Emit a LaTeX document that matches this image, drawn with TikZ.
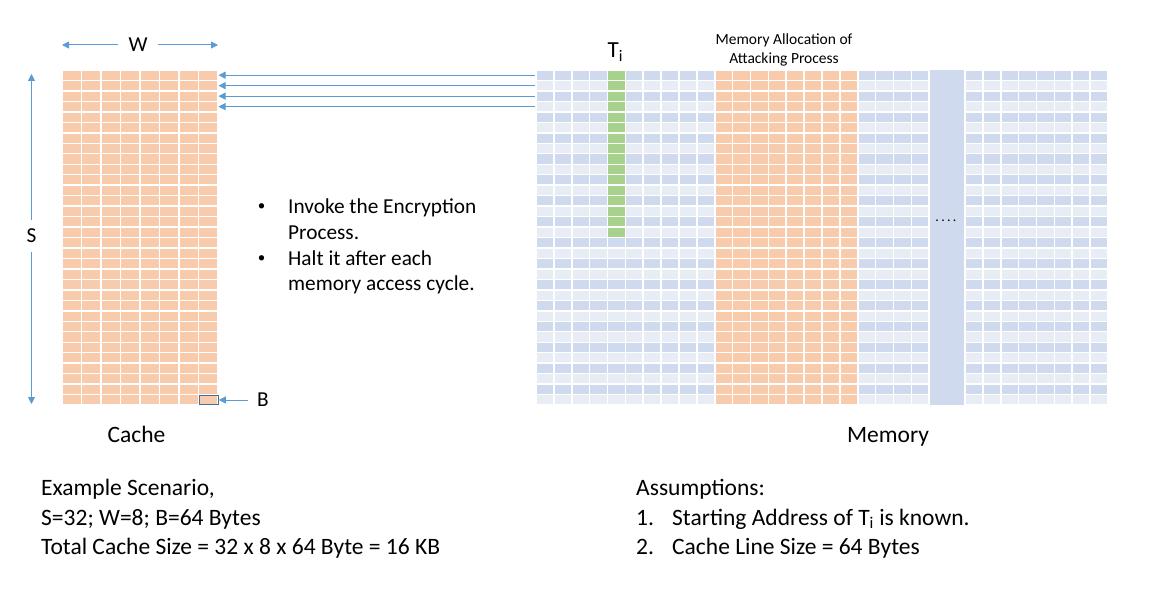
\documentclass[tikz,border=0pt]{standalone}
\usepackage{fontspec}
\setmainfont{Carlito}
\usetikzlibrary{arrows.meta}

\definecolor{cacheorange}{HTML}{F8CBAD}
\definecolor{memdark}{HTML}{D0DAEE}
\definecolor{memlight}{HTML}{E8ECF5}
\definecolor{tigreen}{HTML}{A9D18E}
\definecolor{arrowblue}{HTML}{5B9BD5}
\definecolor{bframe}{HTML}{41719C}

\newcommand{\pxfont}[1]{\fontsize{#1bp}{#1bp}\selectfont}

\begin{document}
\begin{tikzpicture}[x=1bp, y=-1bp,
	pointer/.style={draw=arrowblue, line width=1bp, -{Triangle[length=7bp, width=7bp]}},
	big/.style={font=\pxfont{23.5}, inner sep=0pt},
	mid/.style={font=\pxfont{21.3}, inner sep=0pt},
	small/.style={font=\pxfont{15.5}, inner sep=0pt}]
	\useasboundingbox (0,0) rectangle (1159,589);
	
	% cache lines (32 sets x 8 ways)
	\foreach \r in {0,...,31}
		\foreach \c in {0,...,7}
			\fill[cacheorange] (62+\c*19.5+0.8, 70+\r*10.47+0.7) rectangle ++(17.9,9.07);
	
	% memory blocks
	\foreach \r in {0,...,31} {
		\ifodd\r \def\rowcol{memlight}\else\def\rowcol{memdark}\fi
		\foreach \c in {0,...,31}
			\fill[\rowcol] (536+\c*17.875+0.8, 70+\r*10.47+0.7) rectangle ++(16.3,9.07);
	}
	
	% memory of attacking process
	\foreach \r in {0,...,31}
		\foreach \c in {10,...,17}
			\fill[cacheorange] (536+\c*17.875+0.8, 70+\r*10.47+0.7) rectangle ++(16.3,9.07);
	
	% table T_i
	\foreach \r in {0,...,15}
		\fill[tigreen] (536+4*17.875+0.8, 70+\r*10.47+0.7) rectangle ++(16.3,9.07);
	
	% skipped part
	\fill[memdark] (930,70) rectangle (964.3,405);
	\node[font=\pxfont{14}, inner sep=0pt] (dots) at (946,221) {.\hspace{2.3bp}.\hspace{2.3bp}.\hspace{2.3bp}.};
	
	% set arrows
	\foreach \r in {0,...,3} {
		\coordinate (mrow\r) at (535,75.2+\r*10.47);
		\coordinate (crow\r) at (218.5,75.2+\r*10.47);
		\draw[pointer] (mrow\r) -- (crow\r);
	}
	
	% W
	\node[mid, inner xsep=10.5bp] (wtext) at (138,45) {W};
	\coordinate (wleft) at (62,45);
	\coordinate (wright) at (218,45);
	\draw[pointer] (wtext) -- (wleft);
	\draw[pointer] (wtext) -- (wright);
	
	% S
	\node[mid, minimum height=32bp] (stext) at (31.5,236) {S};
	\coordinate (stop) at (31.5,74);
	\coordinate (sbot) at (31.5,404);
	\draw[pointer] (stext) -- (stop);
	\draw[pointer] (stext) -- (sbot);
	
	% B
	\node[draw=bframe, line width=1bp, minimum width=19bp, minimum height=9.3bp, inner sep=0pt] (bline) at (208.8,400) {};
	\node[mid, inner xsep=9bp] (btext) at (263,400) {B};
	\draw[pointer] (btext) -- (bline);
	
	% headings above memory
	\node[font=\pxfont{23}, inner sep=0pt, anchor=base west] (titext) at (607.5,58) {T\textsubscript{i}};
	\node[small, anchor=base] (alloc1) at (784,45) {Memory Allocation of};
	\node[small, anchor=base] (alloc2) at (784,63.5) {Attacking Process};
	
	% captions
	\node[big, anchor=base] (cachecap) at (136.5,442) {Cache};
	\node[big, anchor=base] (memcap) at (888,442) {Memory};
	
	% steps
	\node[font=\pxfont{15}, inner sep=0pt, anchor=base] (bul1) at (261.5,211) {\textbullet};
	\node[mid, anchor=base west] (step1a) at (288,214) {Invoke the Encryption};
	\node[mid, anchor=base west] (step1b) at (288,239.6) {Process.};
	\node[font=\pxfont{15}, inner sep=0pt, anchor=base] (bul2) at (261.5,262.2) {\textbullet};
	\node[mid, anchor=base west] (step2a) at (288,265.2) {Halt it after each};
	\node[mid, anchor=base west] (step2b) at (288,290.8) {memory access cycle.};
	
	% example scenario
	\node[big, anchor=base west] (ex1) at (41,495.5) {Example Scenario,};
	\node[big, anchor=base west] (ex2) at (41,525) {S=32; W=8; B=64 Bytes};
	\node[big, anchor=base west] (ex3) at (41,554.5) {Total Cache Size = 32 x 8 x 64 Byte = 16 KB};
	
	% assumptions
	\node[big, anchor=base west] (as0) at (636,495.5) {Assumptions:};
	\node[big, anchor=base west] (as1n) at (636,525) {1.};
	\node[big, anchor=base west] (as1) at (672,525) {Starting Address of T\textsubscript{i} is known.};
	\node[big, anchor=base west] (as2n) at (636,554.5) {2.};
	\node[big, anchor=base west] (as2) at (672,554.5) {Cache Line Size = 64 Bytes};
\end{tikzpicture}
\end{document}
